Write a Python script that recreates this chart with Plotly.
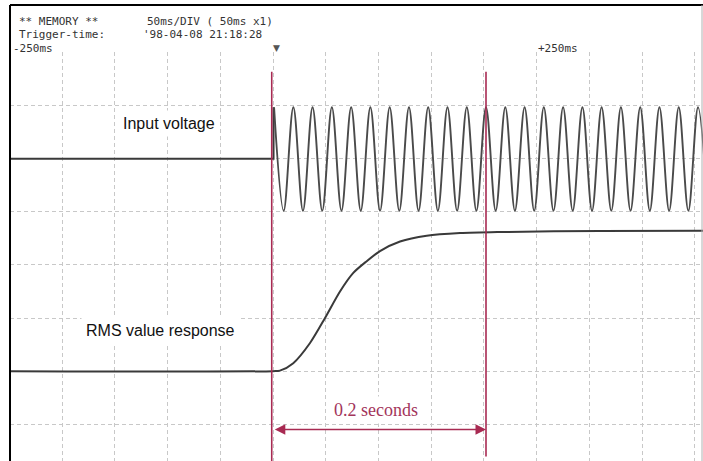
import plotly.graph_objects as go

# ---------------- data ----------------
# time in ms (trigger at 0), amplitude in grid divisions
baseline_in_ms = [-250, 0.5, 0.5]
baseline_in_div = [4.0, 4.0, 4.97]

# input sine: successive peaks / troughs
input_ext_ms = [1.0, 10.1, 19.3, 28.4, 37.5, 46.7, 55.8, 64.9, 74.1, 83.2, 92.3,
                101.5, 110.6, 119.7, 128.9, 138.0, 147.1, 156.3, 165.4, 174.5, 183.7,
                192.8, 201.9, 211.1, 220.2, 229.3, 238.5, 247.6, 256.7, 265.9, 275.0,
                284.1, 293.3, 302.4, 311.5, 320.7, 329.8, 338.9, 348.1, 357.2, 366.3,
                375.5, 384.6, 393.7, 402.9, 412.0]
input_ext_div = [4.97, 3.02, 4.97, 3.02, 4.97, 3.02, 4.97, 3.02, 4.97, 3.02, 4.97,
                 3.02, 4.97, 3.02, 4.97, 3.02, 4.97, 3.02, 4.97, 3.02, 4.97,
                 3.02, 4.97, 3.02, 4.97, 3.02, 4.97, 3.02, 4.97, 3.02, 4.97,
                 3.02, 4.97, 3.02, 4.97, 3.02, 4.97, 3.02, 4.97, 3.02, 4.97,
                 3.02, 4.97, 3.02, 4.97, 3.02]

rms_ms = [-250, 0, 6.6, 19.2, 35.1, 49.3, 63.5, 76.1, 88.8, 101.4, 120.4, 145.7,
          177.3, 215.2, 310.0, 408.0]
rms_div = [0.0, 0.0, 0.01, 0.15, 0.53, 1.0, 1.5, 1.85, 2.07, 2.26, 2.44, 2.55,
           2.60, 2.62, 2.64, 2.646]

marker_ms = [-1.2, 201.9]          # red vertical lines
span_label = "0.2 seconds"
header_l1a = "** MEMORY **"
header_l1b = "50ms/DIV ( 50ms x1)"
header_l2a = "Trigger-time:"
header_l2b = "'98-04-08 21:18:28"
left_label = "-250ms"
right_label = "+250ms"

# ---------------- geometry ----------------
W, H = 703, 461
ML, MT = 10, 52
PW, PH = W - ML, H - MT
X0, X1 = -249.3, 407.6
Y1 = 6.01
Y0 = Y1 - PH / 53.1

def px(xp):
    return (xp - ML) / PW

def py(yp):
    return (H - yp) / PH

RED = "#a82a52"
TXT_RED = "#a3355b"

fig = go.Figure()

fig.add_trace(go.Scatter(x=baseline_in_ms, y=baseline_in_div, mode="lines",
                         line=dict(color="#3a3a3a", width=2), hoverinfo="skip"))
fig.add_trace(go.Scatter(x=input_ext_ms, y=input_ext_div, mode="lines",
                         line=dict(color="#4a4a4a", width=1.9, shape="spline",
                                   smoothing=1.0), hoverinfo="skip"))
fig.add_trace(go.Scatter(x=rms_ms, y=rms_div, mode="lines",
                         line=dict(color="#3a3a3a", width=2, shape="spline",
                                   smoothing=0.8), hoverinfo="skip"))
fig.add_trace(go.Scatter(x=[marker_ms[0], marker_ms[0]], y=[5.64, Y0], mode="lines",
                         line=dict(color=RED, width=1.6), hoverinfo="skip"))
fig.add_trace(go.Scatter(x=[marker_ms[1], marker_ms[1]], y=[5.64, -1.61], mode="lines",
                         line=dict(color=RED, width=1.6), hoverinfo="skip"))

annos = []
# double-headed arrow
annos.append(dict(x=marker_ms[1], y=-1.10, ax=0.3, ay=-1.10, xref="x", yref="y",
                  axref="x", ayref="y", text="", showarrow=True,
                  arrowside="end+start", arrowhead=2, arrowsize=1.5,
                  arrowwidth=1.4, arrowcolor=RED, standoff=0, startstandoff=0))
annos.append(dict(x=98.1, y=-0.74, xref="x", yref="y", text=span_label,
                  showarrow=False, bgcolor="white", borderpad=3,
                  font=dict(family="Liberation Serif", size=18, color=TXT_RED)))
annos.append(dict(x=-98.9, y=4.66, xref="x", yref="y", text="Input voltage",
                  showarrow=False, bgcolor="white", borderpad=4,
                  font=dict(family="Liberation Sans", size=16, color="#111")))
annos.append(dict(x=-106.2, y=0.76, xref="x", yref="y", text="RMS value response",
                  showarrow=False, bgcolor="white", borderpad=4,
                  font=dict(family="Liberation Sans", size=16, color="#111")))

mono = dict(family="DejaVu Sans Mono", size=11, color="#333")
for txt, xp, yp in [(header_l1a, 18, 22.0), (header_l1b, 146, 22.0),
                    (header_l2a, 18, 35.0), (header_l2b, 142, 35.0),
                    (left_label, 12, 48.5), (right_label, 537, 48.5)]:
    annos.append(dict(x=px(xp), y=py(yp), xref="paper", yref="paper", text=txt,
                      showarrow=False, xanchor="left", yanchor="middle",
                      borderpad=0, font=mono))
annos.append(dict(x=px(276.5), y=py(48), xref="paper", yref="paper", text="▼",
                  showarrow=False, xanchor="center", yanchor="middle",
                  font=dict(family="DejaVu Sans", size=9, color="#555")))

shapes = [
    dict(type="line", xref="paper", yref="paper", x0=px(10), x1=px(703),
         y0=py(5), y1=py(5), line=dict(color="black", width=2)),
    dict(type="line", xref="paper", yref="paper", x0=px(10), x1=px(10),
         y0=py(5), y1=py(461), line=dict(color="black", width=2)),
    dict(type="line", xref="paper", yref="paper", x0=px(702), x1=px(702),
         y0=py(5), y1=py(461), line=dict(color="#b0b0b0", width=1)),
]

grid = dict(showgrid=True, gridcolor="#c8c8c8", gridwidth=1, griddash="4px,3px",
            zeroline=False, showticklabels=False, ticks="", showline=False)

fig.update_layout(
    width=W, height=H,
    margin=dict(l=ML, r=0, t=MT, b=0, pad=0),
    paper_bgcolor="white", plot_bgcolor="white",
    showlegend=False,
    xaxis=dict(range=[X0, X1], tick0=0, dtick=50, **grid),
    yaxis=dict(range=[Y0, Y1], tick0=0, dtick=1, **grid),
    annotations=annos, shapes=shapes,
)

fig.write_html("out.html", config={"displayModeBar": False},
               post_script="document.body.style.margin='0';document.body.style.overflow='hidden';")
